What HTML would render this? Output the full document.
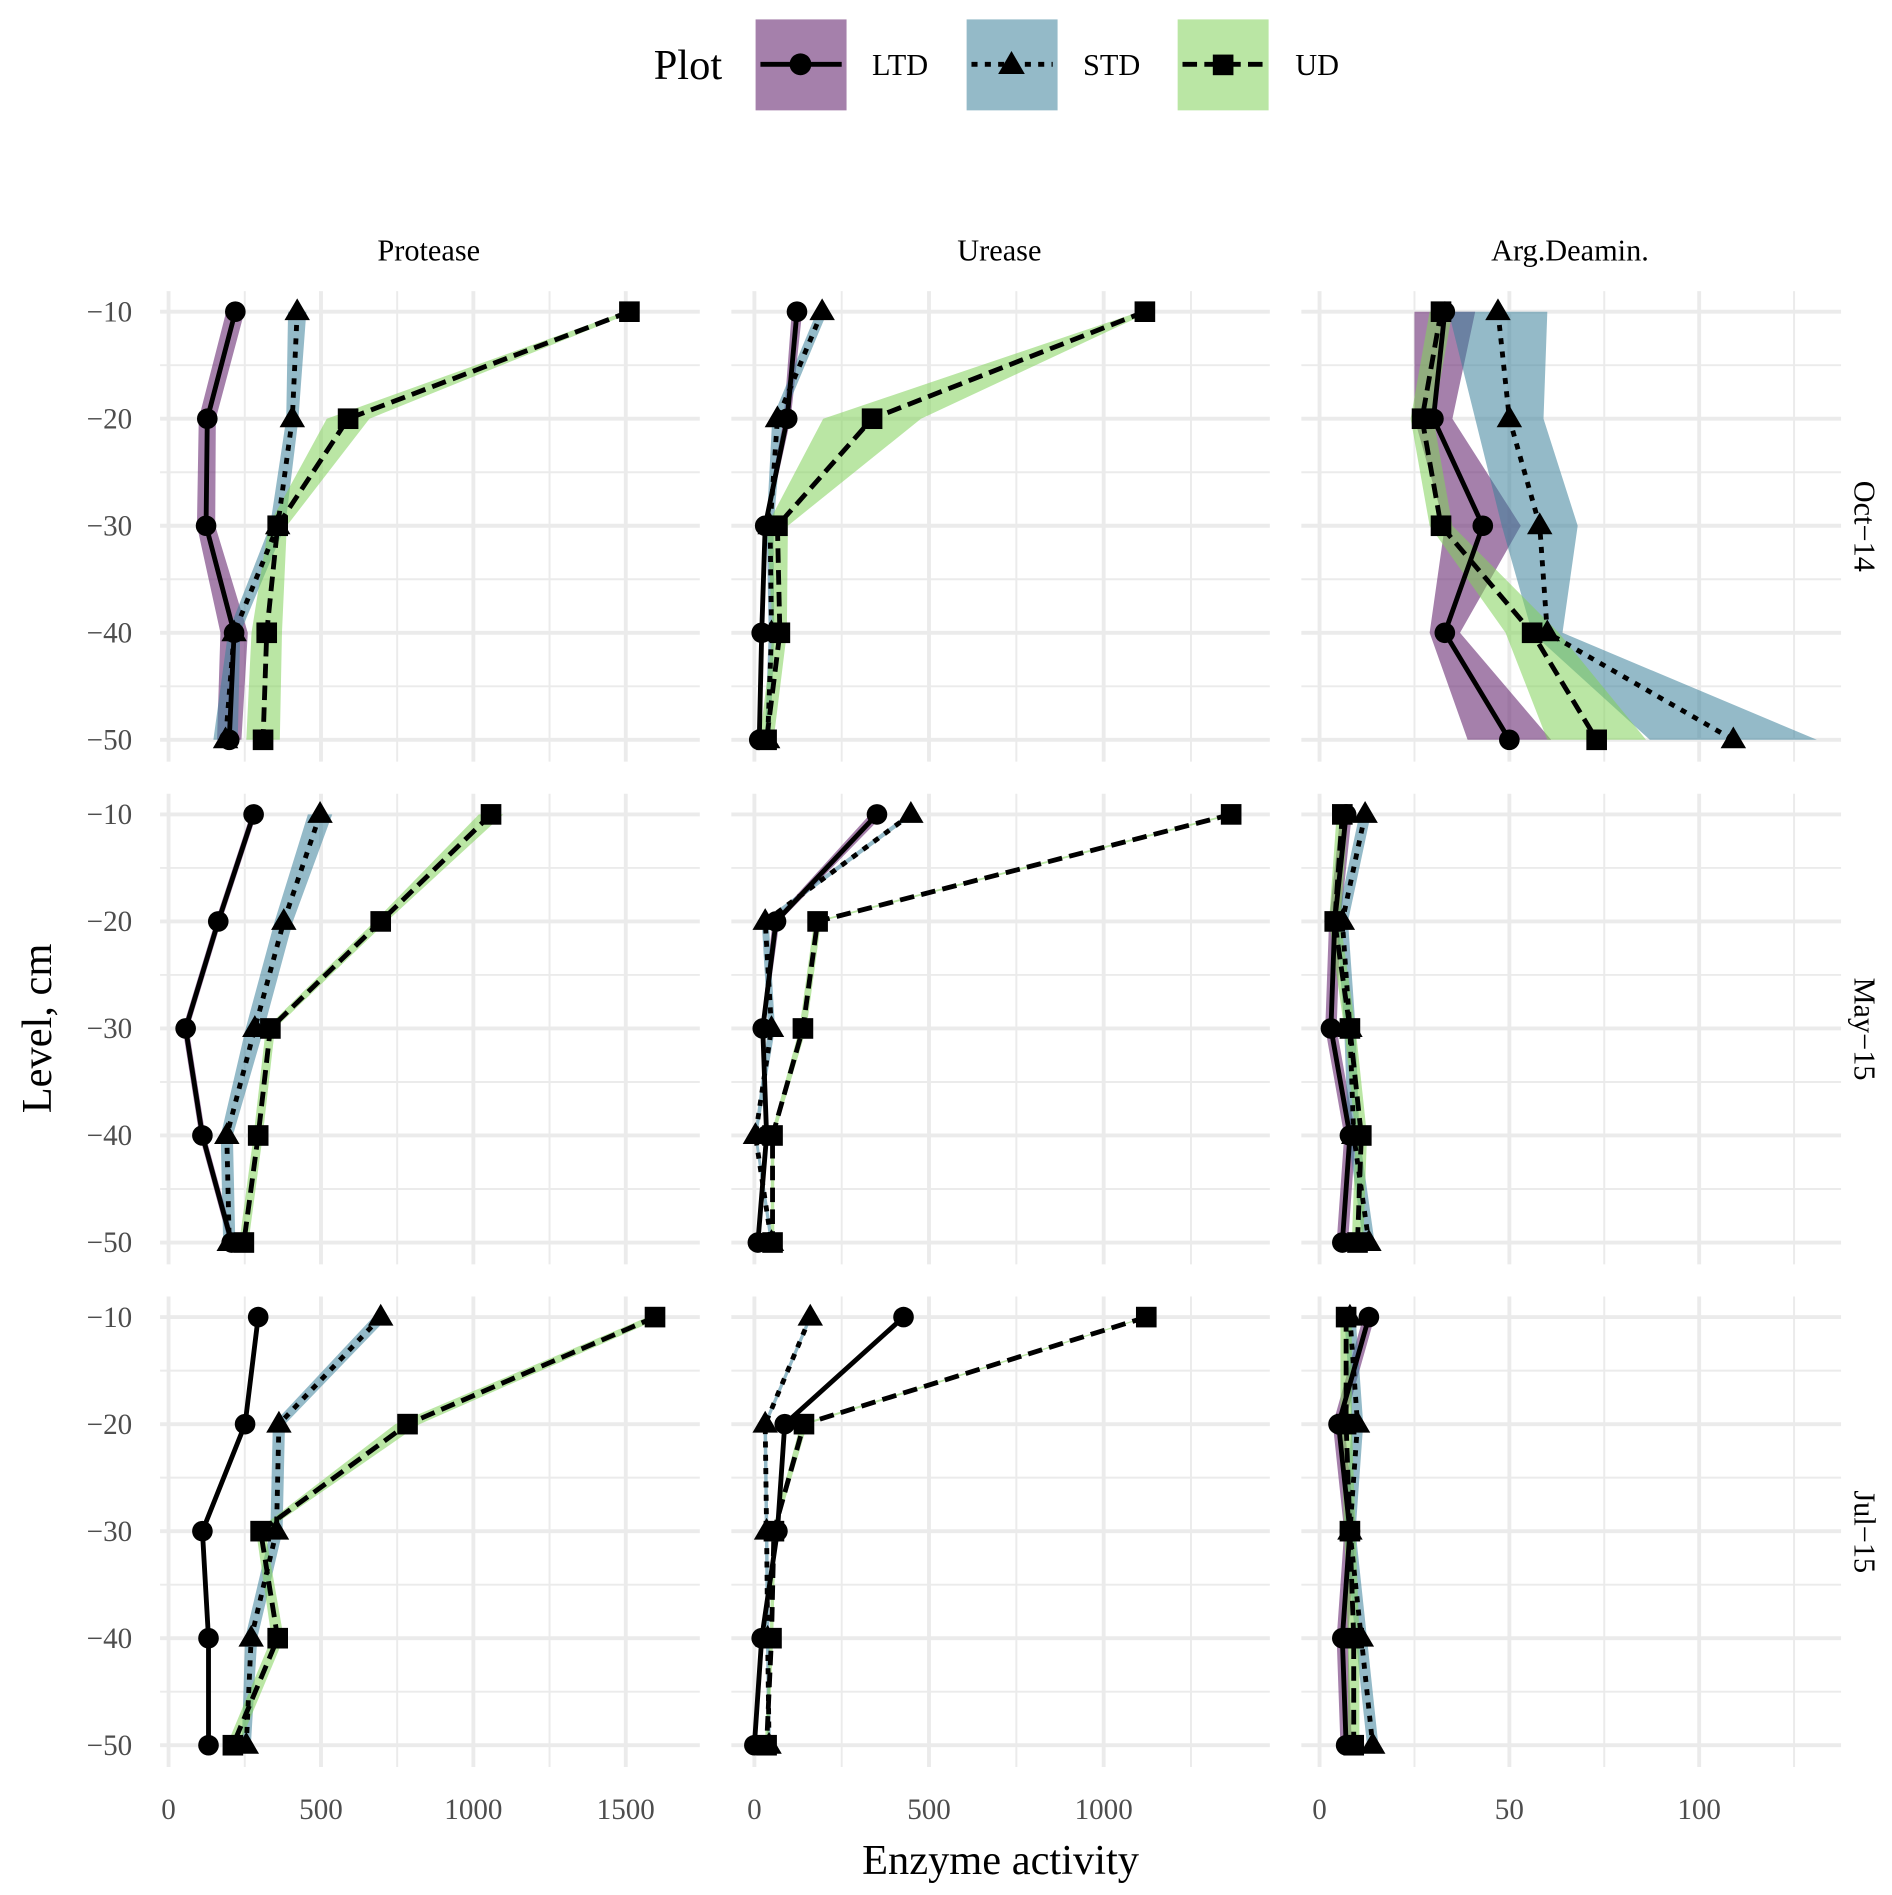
<!DOCTYPE html>
<html><head><meta charset="utf-8"><style>
html,body{margin:0;padding:0;background:#fff;}
svg{display:block;font-family:"Liberation Serif",serif;}
</style></head><body>
<svg id="chart" width="1892" height="1895" viewBox="0 0 1560 1562.5" preserveAspectRatio="none" xmlns="http://www.w3.org/2000/svg">
<g id="legend">
<text x="539" y="65" font-size="35">Plot</text>
<g>
<rect x="623" y="16" width="75" height="75" fill="rgba(110,50,120,0.62)"/>
<line x1="627" y1="53" x2="694" y2="53" stroke="#000" stroke-width="4"/>
<circle cx="660" cy="53" r="9"/>
<text x="719" y="62" font-size="25">LTD</text></g>
<g>
<rect x="797" y="16" width="75" height="75" fill="rgba(60,130,155,0.55)"/>
<line x1="801" y1="53" x2="868" y2="53" stroke="#000" stroke-width="4" stroke-dasharray="5,6"/>
<polygon points="834,42 845,61 823,61"/>
<text x="893" y="62" font-size="25">STD</text></g>
<g>
<rect x="971" y="16" width="75" height="75" fill="rgba(130,210,90,0.55)"/>
<line x1="975" y1="53" x2="1042" y2="53" stroke="#000" stroke-width="4" stroke-dasharray="12,6"/>
<rect x="1000" y="45" width="17" height="17"/>
<text x="1068" y="62" font-size="25">UD</text></g>
</g>
<text x="825" y="1545" font-size="35" text-anchor="middle">Enzyme activity</text>
<text transform="translate(42,848) rotate(-90)" font-size="35" text-anchor="middle">Level, cm</text>
</svg>
<script>
const levels=[-10,-20,-30,-40,-50];
const enzymes=["Protease","Urease","Arg.Deamin."];
const dates=["Oct\u221214","May\u221215","Jul\u221215"];
const plots=["LTD","STD","UD"];
const xTicks=[[0,500,1000,1500],[0,500,1000],[0,50,100]];
const xMinor=[[250,750,1250],[250,750,1250],[25,75,125]];
const protease_oct14={LTD:[219,127,123,215,199],STD:[422,406,358,215,187],UD:[1512,589,358,322,310]};
const protease_may15={LTD:[279,163,56,111,207],STD:[497,378,283,191,199],UD:[1058,696,334,294,247]};
const protease_jul15={LTD:[294,251,111,131,131],STD:[696,362,354,271,255],UD:[1596,784,302,358,211]};
const urease_oct14={LTD:[122,94,31,21,14],STD:[194,66,45,49,38],UD:[1118,337,66,73,35]};
const urease_may15={LTD:[351,62,24,35,10],STD:[448,31,49,3,49],UD:[1365,181,139,52,52]};
const urease_jul15={LTD:[427,87,66,21,0],STD:[160,31,35,38,42],UD:[1122,142,56,49,35]};
const arg_oct14={LTD:[33,30,43,33,50],STD:[47,50,58,60,109],UD:[32,27,32,56,73]};
const arg_may15={LTD:[7,4,3,8,6],STD:[12,6,8,9,13],UD:[6,4,8,11,10]};
const arg_jul15={LTD:[13,5,8,6,7],STD:[8,10,8,11,14],UD:[7,7,8,9,9]};
const protease_oct14_err={LTD:[30,28,30,45,40],STD:[30,20,25,20,40],UD:[15,70,30,50,55]};
const protease_may15_err={LTD:[10,10,10,10,10],STD:[40,30,30,20,20],UD:[40,20,15,15,15]};
const protease_jul15_err={LTD:[5,5,5,5,5],STD:[25,20,20,20,15],UD:[25,40,15,20,20]};
const urease_oct14_err={LTD:[15,10,5,5,5],STD:[15,15,10,8,8],UD:[15,140,30,20,20]};
const urease_may15_err={LTD:[20,10,5,5,5],STD:[10,10,10,5,5],UD:[10,10,10,5,5]};
const urease_jul15_err={LTD:[10,5,5,5,5],STD:[5,5,5,5,5],UD:[5,10,5,5,5]};
const arg_oct14_err={LTD:[8,5,10,4,11],STD:[13,9,10,4,22],UD:[3,3,3,7,13]};
const arg_may15_err={LTD:[1.5,1.5,1.5,1.5,1.5],STD:[1.5,1.5,1.5,1.5,1.5],UD:[1.5,1.5,1.5,1.5,1.5]};
const arg_jul15_err={LTD:[1.5,1.5,1.5,1.5,1.5],STD:[1.5,1.5,1.5,1.5,1.5],UD:[1.5,1.5,1.5,1.5,1.5]};

const vals=[[protease_oct14,protease_may15,protease_jul15],[urease_oct14,urease_may15,urease_jul15],[arg_oct14,arg_may15,arg_jul15]];
const errs=[[protease_oct14_err,protease_may15_err,protease_jul15_err],[urease_oct14_err,urease_may15_err,urease_jul15_err],[arg_oct14_err,arg_may15_err,arg_jul15_err]];

const NS="http://www.w3.org/2000/svg";
const svg=document.getElementById('chart');
function mk(tag,attrs,parent){const e=document.createElementNS(NS,tag);for(const k in attrs)e.setAttribute(k,attrs[k]);(parent||svg).appendChild(e);return e;}
const colX0=[132,603,1073],colX1=[577,1047,1518];
const zeroPx=[139,622,1088],pxPer=[0.2513,0.288,3.13];
const fills={LTD:"rgba(110,50,120,0.62)",STD:"rgba(60,130,155,0.55)",UD:"rgba(130,210,90,0.55)"};
const dashes={LTD:"",STD:"5,6",UD:"12,6"};
function xs(c,v){return zeroPx[c]+v*pxPer[c];}
function ys(r,v){return 257+414.5*r+(-10-v)*8.825;}

for(let c=0;c<3;c++){
  const st=mk('text',{x:(colX0[c]+colX1[c])/2-1,y:215,'font-size':25,'text-anchor':'middle'});
  
  
  st.textContent=enzymes[c];
  xTicks[c].forEach(t=>{const tl=mk('text',{x:xs(c,t),y:1500,'font-size':24,'text-anchor':'middle',fill:'#4d4d4d'});
    
    
    tl.textContent=t;});
}
for(let r=0;r<3;r++){
  const rl=mk('text',{transform:`translate(1529,${434+414.5*r}) rotate(90)`,'font-size':25,'text-anchor':'middle'});
  
  
  rl.textContent=dates[r];
  levels.forEach(l=>{const tl=mk('text',{x:109,y:ys(r,l)+8,'font-size':24,'text-anchor':'end',fill:'#4d4d4d'});
    
    
    tl.textContent='\u2212'+(-l);});
}
for(let r=0;r<3;r++)for(let c=0;c<3;c++){
  const g=mk('g',{});
  
  
  const y0=240+414.5*r,y1=628+414.5*r;
  [-15,-25,-35,-45].forEach(l=>mk('line',{x1:colX0[c],x2:colX1[c],y1:ys(r,l),y2:ys(r,l),stroke:'#ebebeb','stroke-width':1.6},g));
  xMinor[c].forEach(t=>{if(xs(c,t)<colX1[c])mk('line',{x1:xs(c,t),x2:xs(c,t),y1:y0,y2:y1,stroke:'#ebebeb','stroke-width':1.6},g);});
  levels.forEach(l=>mk('line',{x1:colX0[c],x2:colX1[c],y1:ys(r,l),y2:ys(r,l),stroke:'#ebebeb','stroke-width':3.2},g));
  xTicks[c].forEach(t=>mk('line',{x1:xs(c,t),x2:xs(c,t),y1:y0,y2:y1,stroke:'#ebebeb','stroke-width':3.2},g));
  const V=vals[c][r],E=errs[c][r];
  plots.forEach(p=>{
    const lo=V[p].map((v,i)=>xs(c,Math.max(0,v-E[p][i]))+','+ys(r,levels[i]));
    const hi=V[p].map((v,i)=>xs(c,v+E[p][i])+','+ys(r,levels[i])).reverse();
    const b=mk('polygon',{points:lo.concat(hi).join(' '),fill:fills[p]},g);
    
    
  });
  plots.forEach(p=>{
    const pts=V[p].map((v,i)=>xs(c,v)+','+ys(r,levels[i])).join(' ');
    const ln=mk('polyline',{points:pts,fill:'none',stroke:'#000','stroke-width':4,'stroke-dasharray':dashes[p]},g);
    
    
  });
  plots.forEach(p=>{
    V[p].forEach((v,i)=>{
      const x=xs(c,v),y=ys(r,levels[i]);let m;
      if(p==='LTD')m=mk('circle',{cx:x,cy:y,r:8.5},g);
      else if(p==='STD')m=mk('polygon',{points:`${x},${y-11} ${x+10.5},${y+7} ${x-10.5},${y+7}`},g);
      else m=mk('rect',{x:x-8.5,y:y-8.5,width:17,height:17},g);
      
      
    });
  });
}
</script>
</body></html>
